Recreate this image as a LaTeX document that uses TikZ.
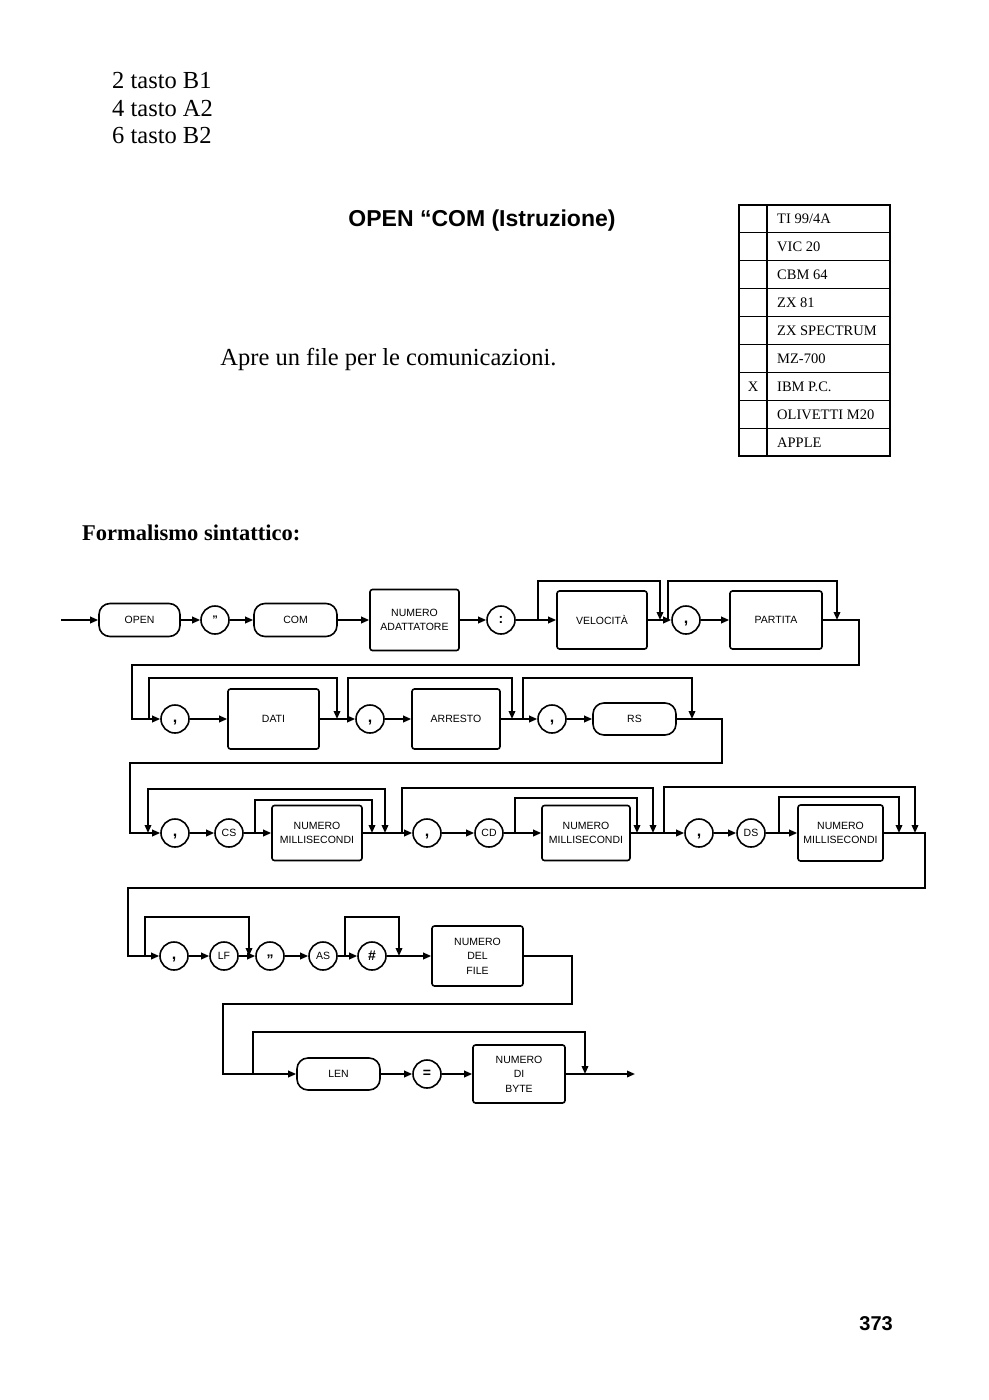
\documentclass[tikz,border=0pt]{standalone}
\usepackage{fontspec}
\setmainfont{Liberation Serif}
\setsansfont{Liberation Sans}
\usetikzlibrary{arrows.meta}
\newcommand{\sepcomma}{\raisebox{-2.5pt}{,}}
\begin{document}
\begin{tikzpicture}[x=1pt,y=-1pt,>={Triangle[length=8pt,width=6.5pt]},
  ln/.style={line width=1.8pt},
  arr/.style={ln,->},
  arrtwo/.style={ln,<->},
  box/.style={draw,line width=1.6pt,rounded corners=2.5pt,align=center,inner sep=0pt,font=\sffamily\fontsize{10.5}{14.5}\selectfont},
  term/.style={box,rounded corners=11pt},
  circ/.style={draw,circle,line width=1.6pt,minimum size=28pt,inner sep=0pt,font=\sffamily\fontsize{10.5}{12}\selectfont},
  pcirc/.style={circ,font=\sffamily\bfseries\fontsize{14}{14}\selectfont},
  ccirc/.style={circ,font=\sffamily\bfseries\fontsize{16}{16}\selectfont,text height=4pt,text depth=2pt},
  serif/.style={font=\fontsize{24.5}{28}\selectfont,inner sep=0pt},
  tabtxt/.style={font=\fontsize{14.5}{16}\selectfont,inner sep=0pt,anchor=base west},
]
\fill[white] (0,0) rectangle (988,1400);
\useasboundingbox (0,0) rectangle (988,1400);

% ---------- page texts ----------
\node[serif,anchor=base west] (l1) at (112,88) {2 tasto B1};
\node[serif,anchor=base west] (l2) at (112,116) {4 tasto A2};
\node[serif,anchor=base west] (l3) at (112,143) {6 tasto B2};
\node[font=\sffamily\bfseries\fontsize{23}{26}\selectfont,inner sep=0pt,anchor=base] (title) at (482,226) {OPEN “COM (Istruzione)};
\node[serif,anchor=base] (descr) at (388.5,365) {Apre un file per le comunicazioni.};
\node[font=\bfseries\fontsize{22.5}{26}\selectfont,inner sep=0pt,anchor=base west] (formal) at (82,540) {Formalismo sintattico:};
\node[font=\sffamily\bfseries\fontsize{20}{22}\selectfont,inner sep=0pt,anchor=base east] (pagenum) at (893,1330) {373};

% ---------- table ----------
\draw[line width=1.6pt] (739,205) rectangle (890,456);
\draw[line width=1.4pt] (767,205) -- (767,456);
\foreach \i in {1,...,8}{
  \draw[line width=0.9pt] (739,{205+\i*27.89}) -- (890,{205+\i*27.89});
}
\foreach \t [count=\i from 0] in {TI 99/4A,VIC 20,CBM 64,ZX 81,ZX SPECTRUM,MZ-700,IBM P.C.,OLIVETTI M20,APPLE}{
  \node[tabtxt] (row\i) at (777,{205+(\i+0.5)*27.89+5}) {\t};
}
\node[font=\fontsize{14.5}{16}\selectfont,inner sep=0pt,anchor=base] (xmark) at (753,{205+6.5*27.89+5}) {X};

% ---------- row 1 ----------
\node[term,minimum width=81pt,minimum height=33pt] (open) at (139.5,620) {OPEN};
\node[pcirc,font=\sffamily\bfseries\fontsize{11}{12}\selectfont] (q1) at (215,620) {"};
\node[term,minimum width=83pt,minimum height=33pt] (com) at (295.5,620) {COM};
\node[box,minimum width=89pt,minimum height=61pt] (na) at (414.5,620) {NUMERO\\ADATTATORE};
\node[pcirc] (colon) at (501,620) {:};
\node[box,minimum width=90pt,minimum height=58pt] (vel) at (602,620) {VELOCITÀ};
\node[ccirc] (c1) at (686,620) {\sepcomma};
\node[box,minimum width=92pt,minimum height=58pt] (par) at (776,620) {PARTITA};

\coordinate (s0) at (61,620);
\draw[arr] (s0) -- (open);
\draw[arr] (open) -- (q1);
\draw[arr] (q1) -- (com);
\draw[arr] (com) -- (na);
\draw[arr] (na) -- (colon);
\draw[arr] (colon) -- (vel);
\draw[arr] (vel) -- (c1);
\draw[arr] (c1) -- (par);
\coordinate (b1) at (538,620); \coordinate (m1) at (660,620);
\draw[arr] (b1) -- ++(0,-39) -| (m1);
\coordinate (b2) at (668,620); \coordinate (m2) at (837,620);
\draw[arr] (b2) -- ++(0,-39) -| (m2);

% ---------- row 2 ----------
\node[ccirc] (c2a) at (175,719) {\sepcomma};
\node[box,minimum width=91pt,minimum height=60pt] (dati) at (273.5,719) {DATI};
\node[ccirc] (c2b) at (370,719) {\sepcomma};
\node[box,minimum width=88pt,minimum height=60pt] (arresto) at (456,719) {ARRESTO};
\node[ccirc] (c2c) at (552,719) {\sepcomma};
\node[term,minimum width=83pt,minimum height=32pt] (rs) at (634.5,719) {RS};

\coordinate (e1) at (859,620); \coordinate (w2) at (132,665);
\draw[arr] (par) -- (e1) |- (w2) |- (c2a);
\draw[arr] (c2a) -- (dati);
\draw[arr] (dati) -- (c2b);
\draw[arr] (c2b) -- (arresto);
\draw[arr] (arresto) -- (c2c);
\draw[arr] (c2c) -- (rs);
\coordinate (b3) at (149,719); \coordinate (m3) at (337,719);
\draw[arr] (b3) -- ++(0,-41) -| (m3);
\coordinate (b4) at (348,719); \coordinate (m4) at (512,719);
\draw[arr] (b4) -- ++(0,-41) -| (m4);
\coordinate (b5) at (523,719); \coordinate (m5) at (692,719);
\draw[arr] (b5) -- ++(0,-41) -| (m5);

% ---------- row 3 ----------
\node[ccirc] (c3a) at (175,833) {\sepcomma};
\node[circ] (cs) at (229,833) {CS};
\node[box,minimum width=90pt,minimum height=55pt] (nm1) at (317,833) {NUMERO\\MILLISECONDI};
\node[ccirc] (c3b) at (427,833) {\sepcomma};
\node[circ] (cd) at (489,833) {CD};
\node[box,minimum width=88pt,minimum height=55pt] (nm2) at (586,833) {NUMERO\\MILLISECONDI};
\node[ccirc] (c3c) at (699,833) {\sepcomma};
\node[circ] (ds) at (751,833) {DS};
\node[box,minimum width=85pt,minimum height=56pt] (nm3) at (840.5,833) {NUMERO\\MILLISECONDI};

\coordinate (e2) at (722,719); \coordinate (w3) at (130,763);
\draw[arr] (rs) -- (e2) |- (w3) |- (c3a);
\draw[arr] (c3a) -- (cs);
\draw[arr] (cs) -- (nm1);
\draw[arr] (nm1) -- (c3b);
\draw[arr] (c3b) -- (cd);
\draw[arr] (cd) -- (nm2);
\draw[arr] (nm2) -- (c3c);
\draw[arr] (c3c) -- (ds);
\draw[arr] (ds) -- (nm3);
\coordinate (b6) at (148,833); \coordinate (m6) at (385,833);
\draw[arrtwo] (b6) -- ++(0,-44) -| (m6);
\coordinate (b7) at (255,833); \coordinate (m7) at (372,833);
\draw[arr] (b7) -- ++(0,-33) -| (m7);
\coordinate (b8) at (402,833); \coordinate (m8) at (653,833);
\draw[arr] (b8) -- ++(0,-45) -| (m8);
\coordinate (b9) at (515,833); \coordinate (m9) at (637,833);
\draw[arr] (b9) -- ++(0,-35) -| (m9);
\coordinate (b10) at (664,833); \coordinate (m10) at (915,833);
\draw[arr] (b10) -- ++(0,-46) -| (m10);
\coordinate (b11) at (779,833); \coordinate (m11) at (899,833);
\draw[arr] (b11) -- ++(0,-36) -| (m11);

% ---------- row 4 ----------
\node[ccirc] (c4a) at (174,956) {\sepcomma};
\node[circ] (lf) at (224,956) {LF};
\node[ccirc,font=\sffamily\bfseries\fontsize{14}{14}\selectfont] (q2) at (270,956) {\raisebox{-0.55em}{”}};
\node[circ] (as) at (323,956) {AS};
\node[pcirc] (hash) at (372,956) {\#};
\node[box,minimum width=91pt,minimum height=60pt] (ndf) at (477.5,956) {NUMERO\\DEL\\FILE};

\coordinate (e3) at (925,833); \coordinate (w4) at (128,888);
\draw[arr] (nm3) -- (e3) |- (w4) |- (c4a);
\draw[arr] (c4a) -- (lf);
\draw[arr] (lf) -- (q2);
\draw[arr] (q2) -- (as);
\draw[arr] (as) -- (hash);
\draw[arr] (hash) -- (ndf);
\coordinate (b12) at (145,956); \coordinate (m12) at (249,956);
\draw[arr] (b12) -- ++(0,-39) -| (m12);
\coordinate (b13) at (345,956); \coordinate (m13) at (399,956);
\draw[arr] (b13) -- ++(0,-39) -| (m13);

% ---------- row 5 ----------
\node[term,minimum width=83pt,minimum height=32pt] (len) at (338.5,1074) {LEN};
\node[pcirc] (eq) at (427,1074) {=};
\node[box,minimum width=92pt,minimum height=58pt] (ndb) at (519,1074) {NUMERO\\DI\\BYTE};

\coordinate (e4) at (572,956); \coordinate (w5) at (223,1004);
\draw[arr] (ndf) -- (e4) |- (w5) |- (len);
\draw[arr] (len) -- (eq);
\draw[arr] (eq) -- (ndb);
\coordinate (fin) at (635,1074);
\draw[arr] (ndb) -- (fin);
\coordinate (b14) at (253,1074); \coordinate (m14) at (585,1074);
\draw[arr] (b14) -- ++(0,-42) -| (m14);
\end{tikzpicture}
\end{document}
